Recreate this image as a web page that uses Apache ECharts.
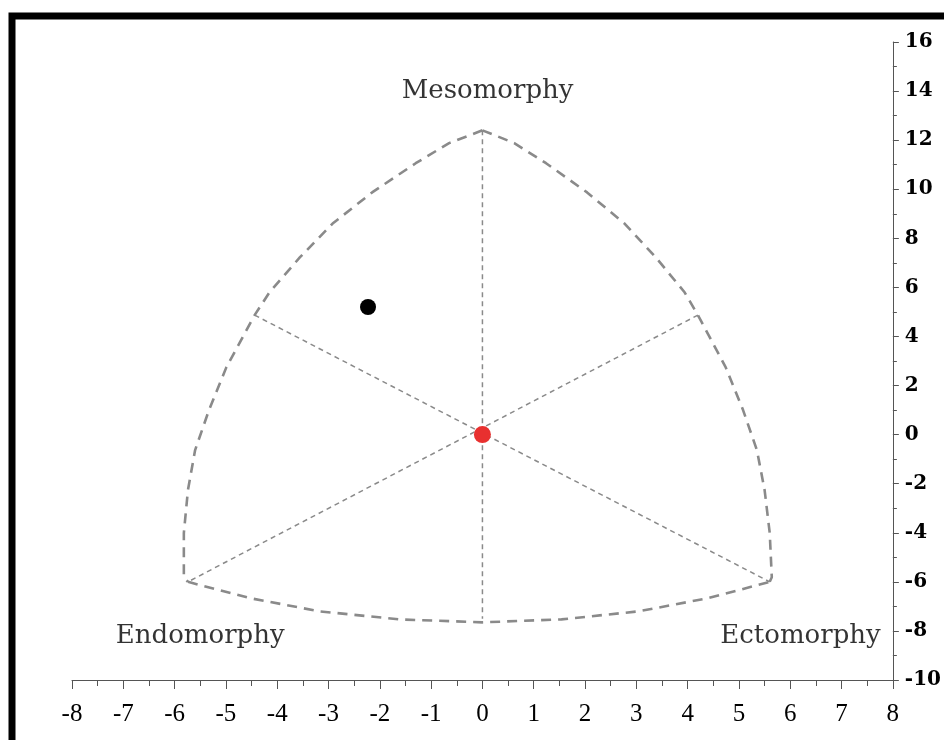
<!DOCTYPE html>
<html>
<head>
<meta charset="utf-8">
<script src="https://cdn.jsdelivr.net/npm/echarts@6/dist/echarts.min.js"></script>
<style>
html,body{margin:0;padding:0;background:#fff;}
#chart{width:944px;height:740px;}
</style>
</head>
<body>
<div id="chart"></div>
<script>
// Axis ranges / ticks
const xTicks = { min: -8, max: 8, interval: 1 };
const yTicks = { min: -10, max: 16, interval: 2 };

// Somatochart outline
const leftArc = [[0,12.4],[-0.65,11.88],[-1.3,11.06],[-2.15,9.87],[-2.92,8.6],[-3.56,7.22],[-4.15,5.8],[-4.44,4.87],[-4.99,2.75],[-5.33,1.0],[-5.6,-0.63],[-5.74,-2.26],[-5.82,-4.01],[-5.82,-5.81],[-5.74,-6.0]];
const rightArc = [[0,12.4],[0.62,11.88],[1.24,11.06],[2.04,9.87],[2.77,8.6],[3.38,7.22],[3.94,5.8],[4.2,4.87],[4.74,2.75],[5.08,1.0],[5.35,-0.63],[5.5,-2.26],[5.6,-4.01],[5.64,-5.81],[5.6,-6.0]];
const bottomArc = [[-5.74,-6.0],[-4.54,-6.66],[-3.18,-7.2],[-1.62,-7.53],[0,-7.65],[1.54,-7.53],[3.05,-7.2],[4.41,-6.66],[5.6,-6.0]];

// Inner dashed axes through the centre
const lineMeso = [[0,12.4],[0,-7.5]];
const lineEndoToEcto = [[-4.44,4.87],[5.6,-6.0]];
const lineEctoToEndo = [[4.2,4.87],[-5.74,-6.0]];

// Points
const subjectPoint = [[-2.23,5.2]];
const centrePoint = [[0,0]];

// Labels
const labelNames = ['Mesomorphy','Endomorphy','Ectomorphy'];
const labelPos = [[0.1,14.0],[-5.5,-8.2],[6.2,-8.2]];

const chart = echarts.init(document.getElementById('chart'), null, {renderer:'canvas'});

const outerStyle = {color:'#8a8a8a', width:2.6, type:[10,7], join:'round'};
const innerStyle = {color:'#8a8a8a', width:1.5, type:[5,4]};

function lineSeries(data, style){
  return {type:'line', data:data, showSymbol:false, symbol:'none', smooth:false, silent:true,
    lineStyle:style, z:2};
}

const option = {
  backgroundColor:'#ffffff',
  animation:false,
  grid:{left:72, right:50, top:42, bottom:60, containLabel:false},
  xAxis:{
    type:'value', min:xTicks.min, max:xTicks.max, interval:xTicks.interval,
    position:'bottom',
    axisLine:{show:true, onZero:false, lineStyle:{color:'#555', width:1}},
    axisTick:{show:true, inside:false, length:9, lineStyle:{color:'#555'}},
    minorTick:{show:true, splitNumber:2, length:6, lineStyle:{color:'#555'}},
    splitLine:{show:false}, minorSplitLine:{show:false},
    axisLabel:{margin:22, fontFamily:'Liberation Serif', fontSize:25, color:'#000'}
  },
  yAxis:{
    type:'value', min:yTicks.min, max:yTicks.max, interval:yTicks.interval,
    position:'right',
    axisLine:{show:true, onZero:false, lineStyle:{color:'#555', width:1}},
    axisTick:{show:true, inside:false, length:6, lineStyle:{color:'#555'}},
    minorTick:{show:true, splitNumber:2, length:4, lineStyle:{color:'#555'}},
    splitLine:{show:false}, minorSplitLine:{show:false},
    axisLabel:{margin:12, fontFamily:'DejaVu Serif', fontSize:20, fontWeight:'bold', color:'#000'}
  },
  graphic:[{
    type:'rect', silent:true, z:100,
    shape:{x:12, y:16, width:2000, height:2000},
    style:{fill:'none', stroke:'#000', lineWidth:7}
  }],
  series:[
    lineSeries(leftArc, outerStyle),
    lineSeries(rightArc, outerStyle),
    lineSeries(bottomArc, outerStyle),
    lineSeries(lineMeso, innerStyle),
    lineSeries(lineEndoToEcto, innerStyle),
    lineSeries(lineEctoToEndo, innerStyle),
    {type:'scatter', data:subjectPoint, symbolSize:16, itemStyle:{color:'#000', opacity:1}, z:5},
    {type:'scatter', data:centrePoint, symbolSize:17, itemStyle:{color:'#e8302f', opacity:1}, z:5},
    {type:'scatter', symbolSize:0, z:6,
      data:labelNames.map((n,i)=>({name:n, value:labelPos[i]})),
      label:{show:true, position:'inside', formatter:'{b}', fontFamily:'DejaVu Serif', fontSize:26, color:'#000'}
    }
  ]
};
chart.setOption(option);
</script>
</body>
</html>
